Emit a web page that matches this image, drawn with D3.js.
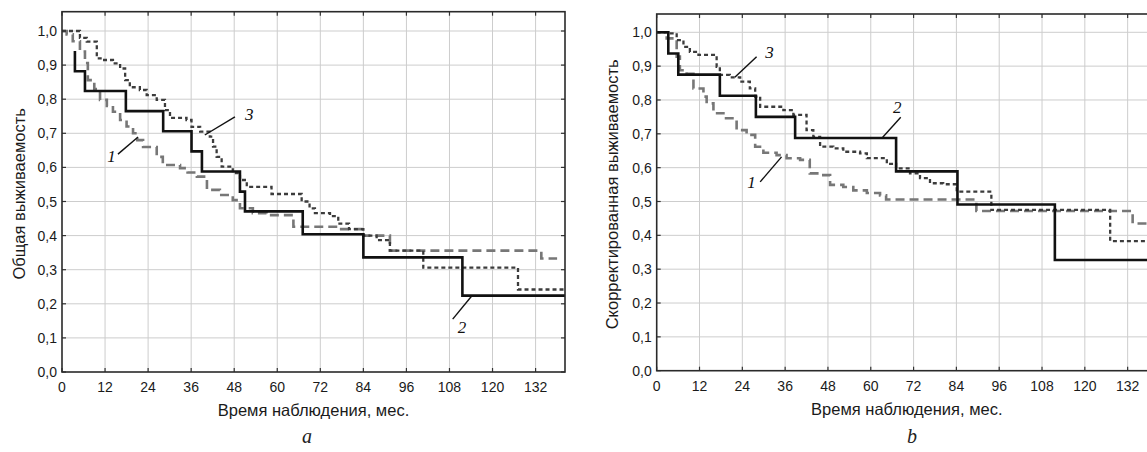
<!DOCTYPE html>
<html><head><meta charset="utf-8">
<script src="https://cdn.jsdelivr.net/npm/d3@7"></script>
<style>body{margin:0;background:#fff;} svg{display:block;}</style>
</head><body><svg id="chart" width="1147" height="452"></svg>
<script>
// ---------- data ----------
const monthTicks = [0, 12, 24, 36, 48, 60, 72, 84, 96, 108, 120, 132];
const survTicks = [0, 0.1, 0.2, 0.3, 0.4, 0.5, 0.6, 0.7, 0.8, 0.9, 1.0];
const xTitle = "Время наблюдения, мес.";
const yTitleA = "Общая выживаемость";
const yTitleB = "Скорректированная выживаемость";
const panelLetters = ["a", "b"];
const curveNames = ["1", "2", "3"];

// Panel a — overall survival
const a1Time = [0, 1.3, 3, 5, 6.4, 7.2, 9, 10.6, 12.5, 14.2, 16.2, 18, 19.8, 21, 22.6, 26.4, 28.1, 32.9, 35, 37.6, 40.4, 44, 47.6, 49.6, 53.2, 57, 64.5, 77, 84, 91.4, 133.6, 138];
const a1Surv = [1.0, 0.99, 0.97, 0.94, 0.906, 0.856, 0.83, 0.798, 0.78, 0.763, 0.739, 0.72, 0.70, 0.68, 0.66, 0.631, 0.607, 0.598, 0.585, 0.573, 0.534, 0.519, 0.504, 0.48, 0.466, 0.46, 0.426, 0.419, 0.40, 0.356, 0.333, 0.333];
const a2Time = [3.6, 3.6, 6.4, 17.8, 28.2, 36.1, 39, 49.6, 51, 67.1, 84, 111.6, 140.2];
const a2Surv = [0.941, 0.882, 0.824, 0.765, 0.706, 0.647, 0.588, 0.529, 0.471, 0.404, 0.336, 0.224, 0.224];
const a3Time = [0, 5.0, 6.9, 9.7, 11.4, 14.2, 16.2, 17.6, 18.9, 21.7, 23.6, 26.4, 28.7, 30.1, 34.7, 36.1, 38.5, 41.2, 42.1, 43.1, 44.5, 47.6, 49.6, 51.5, 58.4, 66.8, 69, 70.5, 74.7, 77, 80, 84, 87.7, 91.4, 100.7, 127.1, 140.2];
const a3Surv = [1.0, 0.98, 0.969, 0.92, 0.915, 0.905, 0.89, 0.856, 0.835, 0.827, 0.812, 0.798, 0.768, 0.745, 0.739, 0.719, 0.705, 0.69, 0.661, 0.631, 0.602, 0.583, 0.563, 0.543, 0.522, 0.50, 0.48, 0.466, 0.457, 0.435, 0.419, 0.40, 0.387, 0.356, 0.306, 0.242, 0.242];

// Panel b — corrected survival
const b1Time = [0, 2.8, 5.6, 6.5, 8.4, 10.3, 13.1, 14.0, 15.9, 18.7, 22.4, 25.2, 27.6, 29.9, 33.6, 36.4, 40.2, 42.9, 46.7, 48.6, 52.3, 55.1, 58.9, 62.6, 64.3, 89.6, 133.4, 140.2];
const b1Surv = [1.0, 0.982, 0.928, 0.888, 0.877, 0.834, 0.81, 0.79, 0.761, 0.746, 0.711, 0.697, 0.662, 0.644, 0.637, 0.628, 0.623, 0.583, 0.578, 0.549, 0.543, 0.533, 0.525, 0.518, 0.506, 0.472, 0.435, 0.435];
const b2Time = [0, 3.25, 6.05, 17.7, 27.8, 38.8, 67.1, 84.3, 111.6, 140.2];
const b2Surv = [1.0, 0.9375, 0.875, 0.8125, 0.75, 0.6875, 0.589, 0.491, 0.327, 0.327];
const b3Time = [0, 3.2, 5.6, 7.5, 9.3, 11.7, 16.8, 17.7, 20.5, 23.4, 26.1, 27.6, 29.0, 35.5, 38.3, 42.0, 43.9, 45.8, 49.5, 52.3, 57.0, 58.9, 64.5, 67.1, 71.0, 73.8, 76.6, 80.3, 84.1, 93.8, 127.1, 140.2];
const b3Surv = [1.0, 0.997, 0.977, 0.957, 0.942, 0.933, 0.898, 0.874, 0.867, 0.854, 0.834, 0.81, 0.78, 0.770, 0.756, 0.711, 0.691, 0.662, 0.657, 0.647, 0.642, 0.628, 0.611, 0.598, 0.583, 0.569, 0.554, 0.551, 0.529, 0.475, 0.383, 0.383];

// Curve label annotations (data coordinates): [labelT, labelS, lineT1, lineS1, lineT2, lineS2]
const aNotes = [[12.6, 0.616, 15.6, 0.639, 21.2, 0.689], [110.3, 0.114, 108.9, 0.155, 114.2, 0.223], [51, 0.739, 39.8, 0.695, 48.2, 0.748]];
const bNotes = [[25.4, 0.54, 29.0, 0.558, 35.0, 0.632], [66.2, 0.762, 63.1, 0.687, 68.4, 0.749], [30.4, 0.924, 21.9, 0.867, 28.0, 0.928]];

// ---------- layout ----------
const panels = [
  { left: 62, right: 565, top: 11.7, bottom: 372, y1: 31, yTitle: yTitleA, yTitleX: 25, letter: panelLetters[0], letterX: 307,
    series: [[a1Time, a1Surv], [a2Time, a2Surv], [a3Time, a3Surv]], notes: aNotes },
  { left: 656.7, right: 1156.9, top: 14, bottom: 370.7, y1: 32.3, yTitle: yTitleB, yTitleX: 618, letter: panelLetters[1], letterX: 912,
    series: [[b1Time, b1Surv], [b2Time, b2Surv], [b3Time, b3Surv]], notes: bNotes }
];
const styles = [
  { stroke: "#777777", width: 2.6, dash: "9,5" },
  { stroke: "#111", width: 2.6, dash: null },
  { stroke: "#3c3c3c", width: 2.3, dash: "4,3" }
];
const drawOrder = [0, 2, 1];
const sans = "'Liberation Sans', Arial, sans-serif";
const serif = "'Liberation Serif', 'Times New Roman', serif";
const fmt = v => d3.format(".1f")(v).replace(".", ",");

const svg = d3.select("#chart");

panels.forEach(p => {
  const x = d3.scaleLinear().domain([0, 140.2]).range([p.left, p.right]);
  const y = d3.scaleLinear().domain([0, 1]).range([p.bottom, p.y1]);
  const g = svg.append("g");

  // grid
  g.selectAll(".gx").data(monthTicks.slice(1)).enter().append("line")
    .attr("x1", d => x(d)).attr("x2", d => x(d)).attr("y1", p.top).attr("y2", p.bottom)
    .attr("stroke", "#cdcdcd").attr("stroke-width", 1);
  g.selectAll(".gy").data(survTicks.slice(1)).enter().append("line")
    .attr("x1", p.left).attr("x2", p.right).attr("y1", d => y(d)).attr("y2", d => y(d))
    .attr("stroke", "#cdcdcd").attr("stroke-width", 1);

  // inner tick marks on all four sides
  const tl = 4;
  monthTicks.forEach(d => {
    g.append("line").attr("x1", x(d)).attr("x2", x(d)).attr("y1", p.bottom).attr("y2", p.bottom - tl).attr("stroke", "#333").attr("stroke-width", 1.2);
    g.append("line").attr("x1", x(d)).attr("x2", x(d)).attr("y1", p.top).attr("y2", p.top + tl).attr("stroke", "#333").attr("stroke-width", 1.2);
  });
  survTicks.forEach(d => {
    g.append("line").attr("x1", p.right).attr("x2", p.right - tl).attr("y1", y(d)).attr("y2", y(d)).attr("stroke", "#333").attr("stroke-width", 1.2);
    g.append("line").attr("x1", p.left).attr("x2", p.left + tl).attr("y1", y(d)).attr("y2", y(d)).attr("stroke", "#333").attr("stroke-width", 1.2);
  });

  // curves
  const line = d3.line().x(d => x(d[0])).y(d => y(d[1])).curve(d3.curveStepAfter);
  drawOrder.forEach(i => {
    const [t, s] = p.series[i];
    const pts = t.map((v, k) => [v, s[k]]);
    const st = styles[i];
    g.append("path").datum(pts).attr("d", line).attr("fill", "none")
      .attr("stroke", st.stroke).attr("stroke-width", st.width)
      .attr("stroke-dasharray", st.dash).attr("stroke-linejoin", "miter");
  });

  // frame
  g.append("rect").attr("x", p.left).attr("y", p.top).attr("width", p.right - p.left).attr("height", p.bottom - p.top)
    .attr("fill", "none").attr("stroke", "#2a2a2a").attr("stroke-width", 1.6);

  // tick labels
  g.selectAll(".xl").data(monthTicks).enter().append("text")
    .attr("x", d => x(d)).attr("y", p.bottom + 20).attr("text-anchor", "middle")
    .attr("font-family", sans).attr("font-size", 14).attr("fill", "#1a1a1a").text(d => d);
  g.selectAll(".yl").data(survTicks).enter().append("text")
    .attr("x", p.left - 5).attr("y", d => y(d)).attr("dy", "0.36em").attr("text-anchor", "end")
    .attr("font-family", sans).attr("font-size", 14).attr("fill", "#1a1a1a").text(fmt);

  // titles
  g.append("text").attr("x", (p.left + p.right) / 2).attr("y", p.bottom + 44).attr("text-anchor", "middle")
    .attr("font-family", sans).attr("font-size", 16.5).attr("fill", "#1a1a1a").text(xTitle);
  g.append("text").attr("transform", `translate(${p.yTitleX},${(p.top + p.bottom) / 2 + 2}) rotate(-90)`)
    .attr("text-anchor", "middle").attr("font-family", sans).attr("font-size", 16.5).attr("fill", "#1a1a1a").text(p.yTitle);
  g.append("text").attr("x", p.letterX).attr("y", 443).attr("text-anchor", "middle")
    .attr("font-family", serif).attr("font-style", "italic").attr("font-size", 20).attr("fill", "#222").text(p.letter);

  // curve annotations
  p.notes.forEach((n, i) => {
    g.append("line").attr("x1", x(n[2])).attr("y1", y(n[3])).attr("x2", x(n[4])).attr("y2", y(n[5]))
      .attr("stroke", "#111").attr("stroke-width", 1.4);
    g.append("text").attr("x", x(n[0])).attr("y", y(n[1]))
      .attr("font-family", serif).attr("font-style", "italic").attr("font-size", 17).attr("fill", "#111").text(curveNames[i]);
  });
});
</script>
</body></html>
